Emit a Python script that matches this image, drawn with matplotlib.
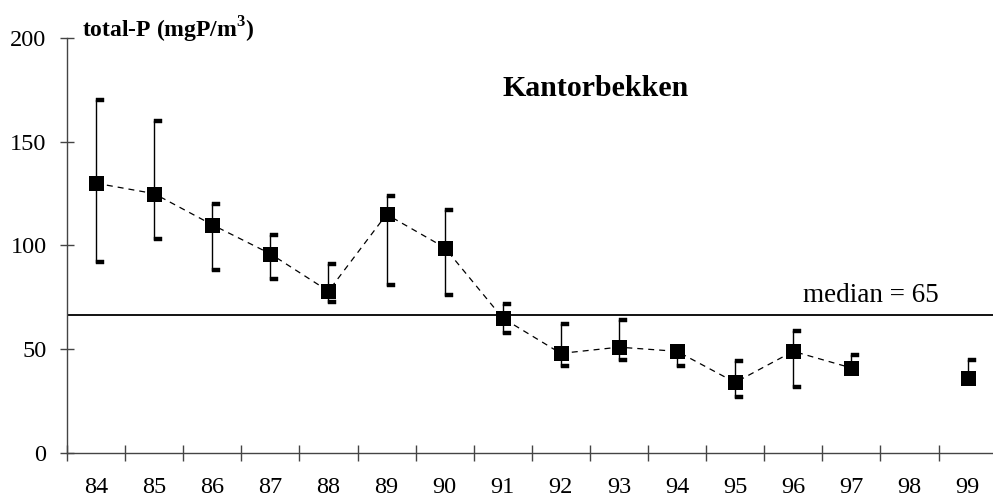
import numpy as np
import matplotlib
matplotlib.use("Agg")
import matplotlib.pyplot as plt
from matplotlib.path import Path

plt.rcParams['font.family'] = ['Liberation Serif', 'DejaVu Serif']
plt.rcParams['mathtext.fontset'] = 'custom'
plt.rcParams['mathtext.rm'] = 'Liberation Serif'
plt.rcParams['mathtext.bf'] = 'Liberation Serif:bold'
plt.rcParams['lines.scale_dashes'] = False

# ---- data ----
years = [84, 85, 86, 87, 88, 89, 90, 91, 92, 93, 94, 95, 96, 97, 98, 99]
year_labels = [str(y) for y in years]
values = [130, 125, 110, 96, 78, 115, 99, 65, 48, 51, 49, 34, 49, 41, np.nan, 36]
upper = [170, 160, 120, 105, 91, 124, 117, 72, 62, 64, np.nan, 44.5, 59, 47, np.nan, 45]
lower = [92, 103, 88, 84, 73, 81, 76, 58, 42, 45, 42, 27, 32, np.nan, np.nan, np.nan]
median_value = 65
median_level = 66.5
y_ticks = [0, 50, 100, 150, 200]
title = "Kantorbekken"
ylabel = r"total-P (mgP/m$^{\mathbf{3}}$)"

W, H = 993, 499
fig = plt.figure(figsize=(W / 100, H / 100), dpi=100)
x0, x1, yb, yt = 67, 996.6, 453, 38
ax = fig.add_axes([x0 / W, 1 - yb / H, (x1 - x0) / W, (yb - yt) / H])
ax.set_xlim(years[0] - 0.5, years[-1] + 0.5)
ax.set_ylim(0, 200)

for s in ['top', 'right']:
    ax.spines[s].set_visible(False)
for s in ['left', 'bottom']:
    ax.spines[s].set_color('#444444')
    ax.spines[s].set_linewidth(1.0)

# y ticks
ax.set_yticks(y_ticks)
ax.tick_params(axis='y', direction='inout', length=10.5, width=1.0, color='#444444',
               labelsize=17.5, pad=9.5)
# x ticks: major at boundaries, labels at centres
bounds = [y - 0.5 for y in years] + [years[-1] + 0.5]
ax.set_xticks(bounds)
ax.set_xticklabels([])
ax.tick_params(axis='x', which='major', direction='inout', length=11.5, width=1.0,
               color='#444444')
ax.set_xticks(years, minor=True)
ax.set_xticklabels(year_labels, minor=True)
ax.tick_params(axis='x', which='minor', length=0, labelsize=17.5, pad=17.5)

# median line
ax.axhline(median_level, color='black', lw=1.3, zorder=2)
ax.text(96.17, median_level + 6.3, f"median = {median_value}", fontsize=19.5,
        ha='left', va='baseline')

# error whiskers
for x, v, u, l in zip(years, values, upper, lower):
    if np.isnan(v):
        continue
    top = u if not np.isnan(u) else v
    bot = l if not np.isnan(l) else v
    ax.plot([x, x], [bot, top], color='black', lw=1.0, zorder=3)

# caps: small rectangles extending right from the whisker
cap_path = Path([(0, -0.25), (1, -0.25), (1, 0.25), (0, 0.25), (0, -0.25)],
                [Path.MOVETO, Path.LINETO, Path.LINETO, Path.LINETO, Path.CLOSEPOLY])
ax.plot(years, upper, linestyle='none', marker=cap_path, markersize=11.5,
        markerfacecolor='black', markeredgecolor='black', markeredgewidth=0.3, zorder=3)
ax.plot(years, lower, linestyle='none', marker=cap_path, markersize=11.5,
        markerfacecolor='black', markeredgecolor='black', markeredgewidth=0.3, zorder=3)

# dashed connecting line and square markers
ax.plot(years, values, linestyle=(0, (4.3, 3.6)), color='black', lw=0.9, zorder=2)
ax.plot(years, values, linestyle='none', marker='s', markersize=10.8,
        markerfacecolor='black', markeredgecolor='black', markeredgewidth=0, zorder=4)

fig.text(502 / W, 1 - 96 / H, title, fontsize=21.5, fontweight='bold',
         ha='left', va='baseline')
fig.text(82 / W, 1 - 37.5 / H, ylabel, fontsize=17, fontweight='bold',
         ha='left', va='baseline')

fig.savefig("out.png", dpi=100)
